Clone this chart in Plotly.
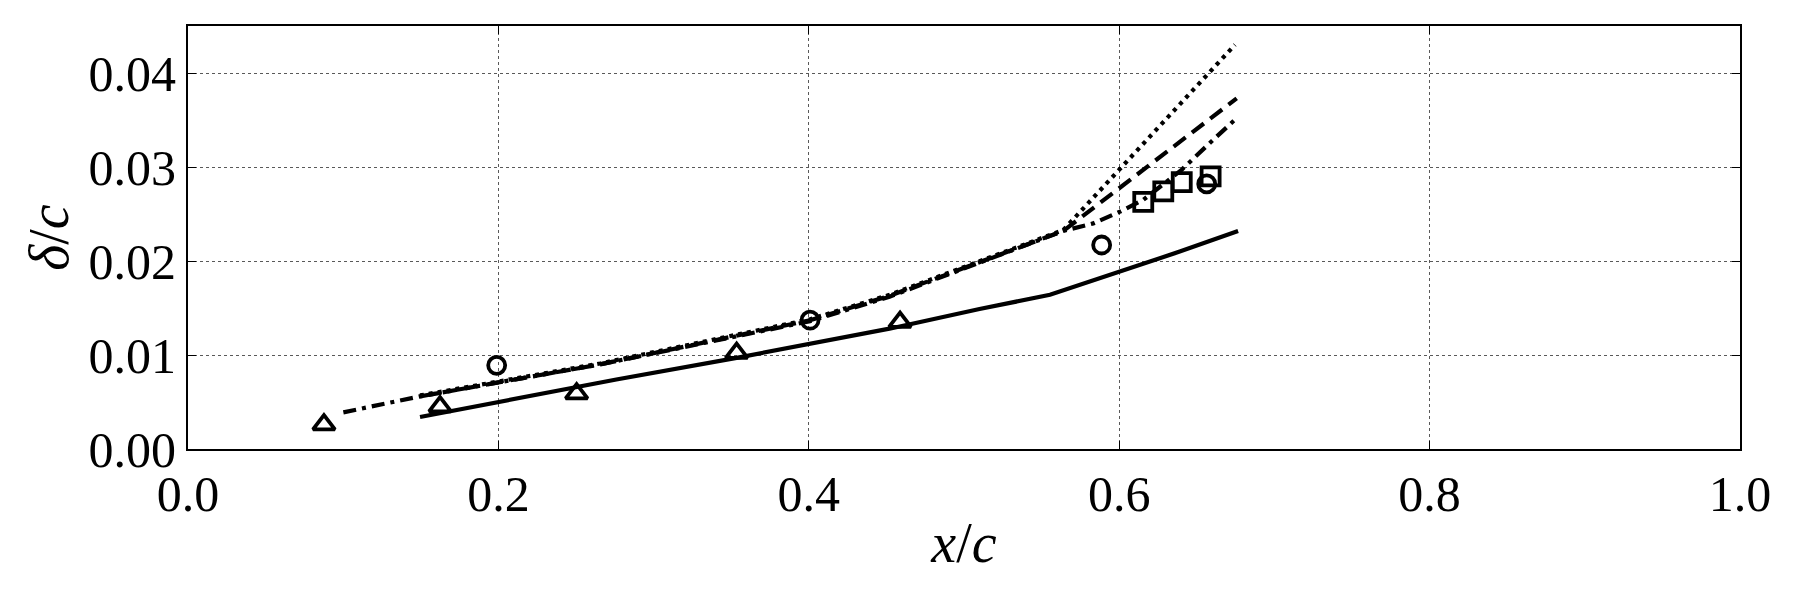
import plotly.graph_objects as go

# ---- data ----
tri_x = [0.0876, 0.1624, 0.2504, 0.3535, 0.4588]
tri_y = [0.0026, 0.0045, 0.0059, 0.0102, 0.0135]
circ_x = [0.1989, 0.4008, 0.5887, 0.6564]
circ_y = [0.0089, 0.0137, 0.0217, 0.0282]
sq_x = [0.6155, 0.6284, 0.6403, 0.6589]
sq_y = [0.0263, 0.0274, 0.0284, 0.0290]

solid_x = [0.1495, 0.276, 0.3535, 0.452, 0.51, 0.5554, 0.639, 0.6766]
solid_y = [0.0034, 0.0074, 0.0097, 0.0128, 0.0149, 0.0164, 0.0210, 0.0232]

dot_x = [0.1495, 0.2655, 0.4008, 0.452, 0.564, 0.6746]
dot_y = [0.0057, 0.0091, 0.0138, 0.0164, 0.0233, 0.0430]

dash_x = [0.1495, 0.2655, 0.4008, 0.452, 0.564, 0.6757]
dash_y = [0.0056, 0.0090, 0.0137, 0.0163, 0.0232, 0.0373]

dd_x = [0.1001, 0.1495, 0.2655, 0.4008, 0.452, 0.564, 0.5833, 0.6005, 0.6155, 0.6402, 0.6606, 0.6757]
dd_y = [0.0039, 0.0056, 0.0090, 0.0136, 0.0162, 0.0232, 0.0240, 0.02525, 0.0265, 0.0297, 0.0329, 0.0352]

x_ticks = [0.0, 0.2, 0.4, 0.6, 0.8, 1.0]
y_ticks = [0.00, 0.01, 0.02, 0.03, 0.04]

FONT = "Liberation Serif"
LW = 4.2

fig = go.Figure()
fig.add_trace(go.Scatter(x=solid_x, y=solid_y, mode="lines",
                         line=dict(color="black", width=LW)))
fig.add_trace(go.Scatter(x=dot_x, y=dot_y, mode="lines",
                         line=dict(color="black", width=LW, dash="4px,5px")))
fig.add_trace(go.Scatter(x=dash_x, y=dash_y, mode="lines",
                         line=dict(color="black", width=LW, dash="15px,8px")))
fig.add_trace(go.Scatter(x=dd_x, y=dd_y, mode="lines",
                         line=dict(color="black", width=LW, dash="13px,6px,4px,6px")))
fig.add_trace(go.Scatter(x=tri_x, y=tri_y, mode="markers",
                         marker=dict(symbol="triangle-up-open", size=19, color="black",
                                     line=dict(color="black", width=3.8))))
fig.add_trace(go.Scatter(x=circ_x, y=circ_y, mode="markers",
                         marker=dict(symbol="circle-open", size=17, color="black",
                                     line=dict(color="black", width=3.8))))
fig.add_trace(go.Scatter(x=sq_x, y=sq_y, mode="markers",
                         marker=dict(symbol="square-open", size=18, color="black",
                                     line=dict(color="black", width=3.8))))

axis_common = dict(
    showline=True, linecolor="black", linewidth=2.2, mirror="ticks",
    ticks="inside", ticklen=8, tickwidth=1, tickcolor="black",
    showgrid=True, gridcolor="rgba(0,0,0,0.65)", gridwidth=1, griddash="dot",
    zeroline=False,
    tickfont=dict(family=FONT, size=50, color="black"),
)

fig.update_layout(
    width=1800, height=600,
    margin=dict(l=188, r=60, t=26, b=151),
    plot_bgcolor="white", paper_bgcolor="white",
    showlegend=False,
    xaxis=dict(range=[0, 1], tickvals=x_ticks, tickformat=".1f",
               title=dict(text="<i>x</i>/<i>c</i>", font=dict(family=FONT, size=56, color="black"),
                          standoff=2),
               **axis_common),
    yaxis=dict(range=[0, 0.045], tickvals=y_ticks, tickformat=".2f",
               title=dict(text="<i>δ</i>/<i>c</i>", font=dict(family=FONT, size=56, color="black"),
                          standoff=2),
               **axis_common),
)

fig.write_html("out.html")
